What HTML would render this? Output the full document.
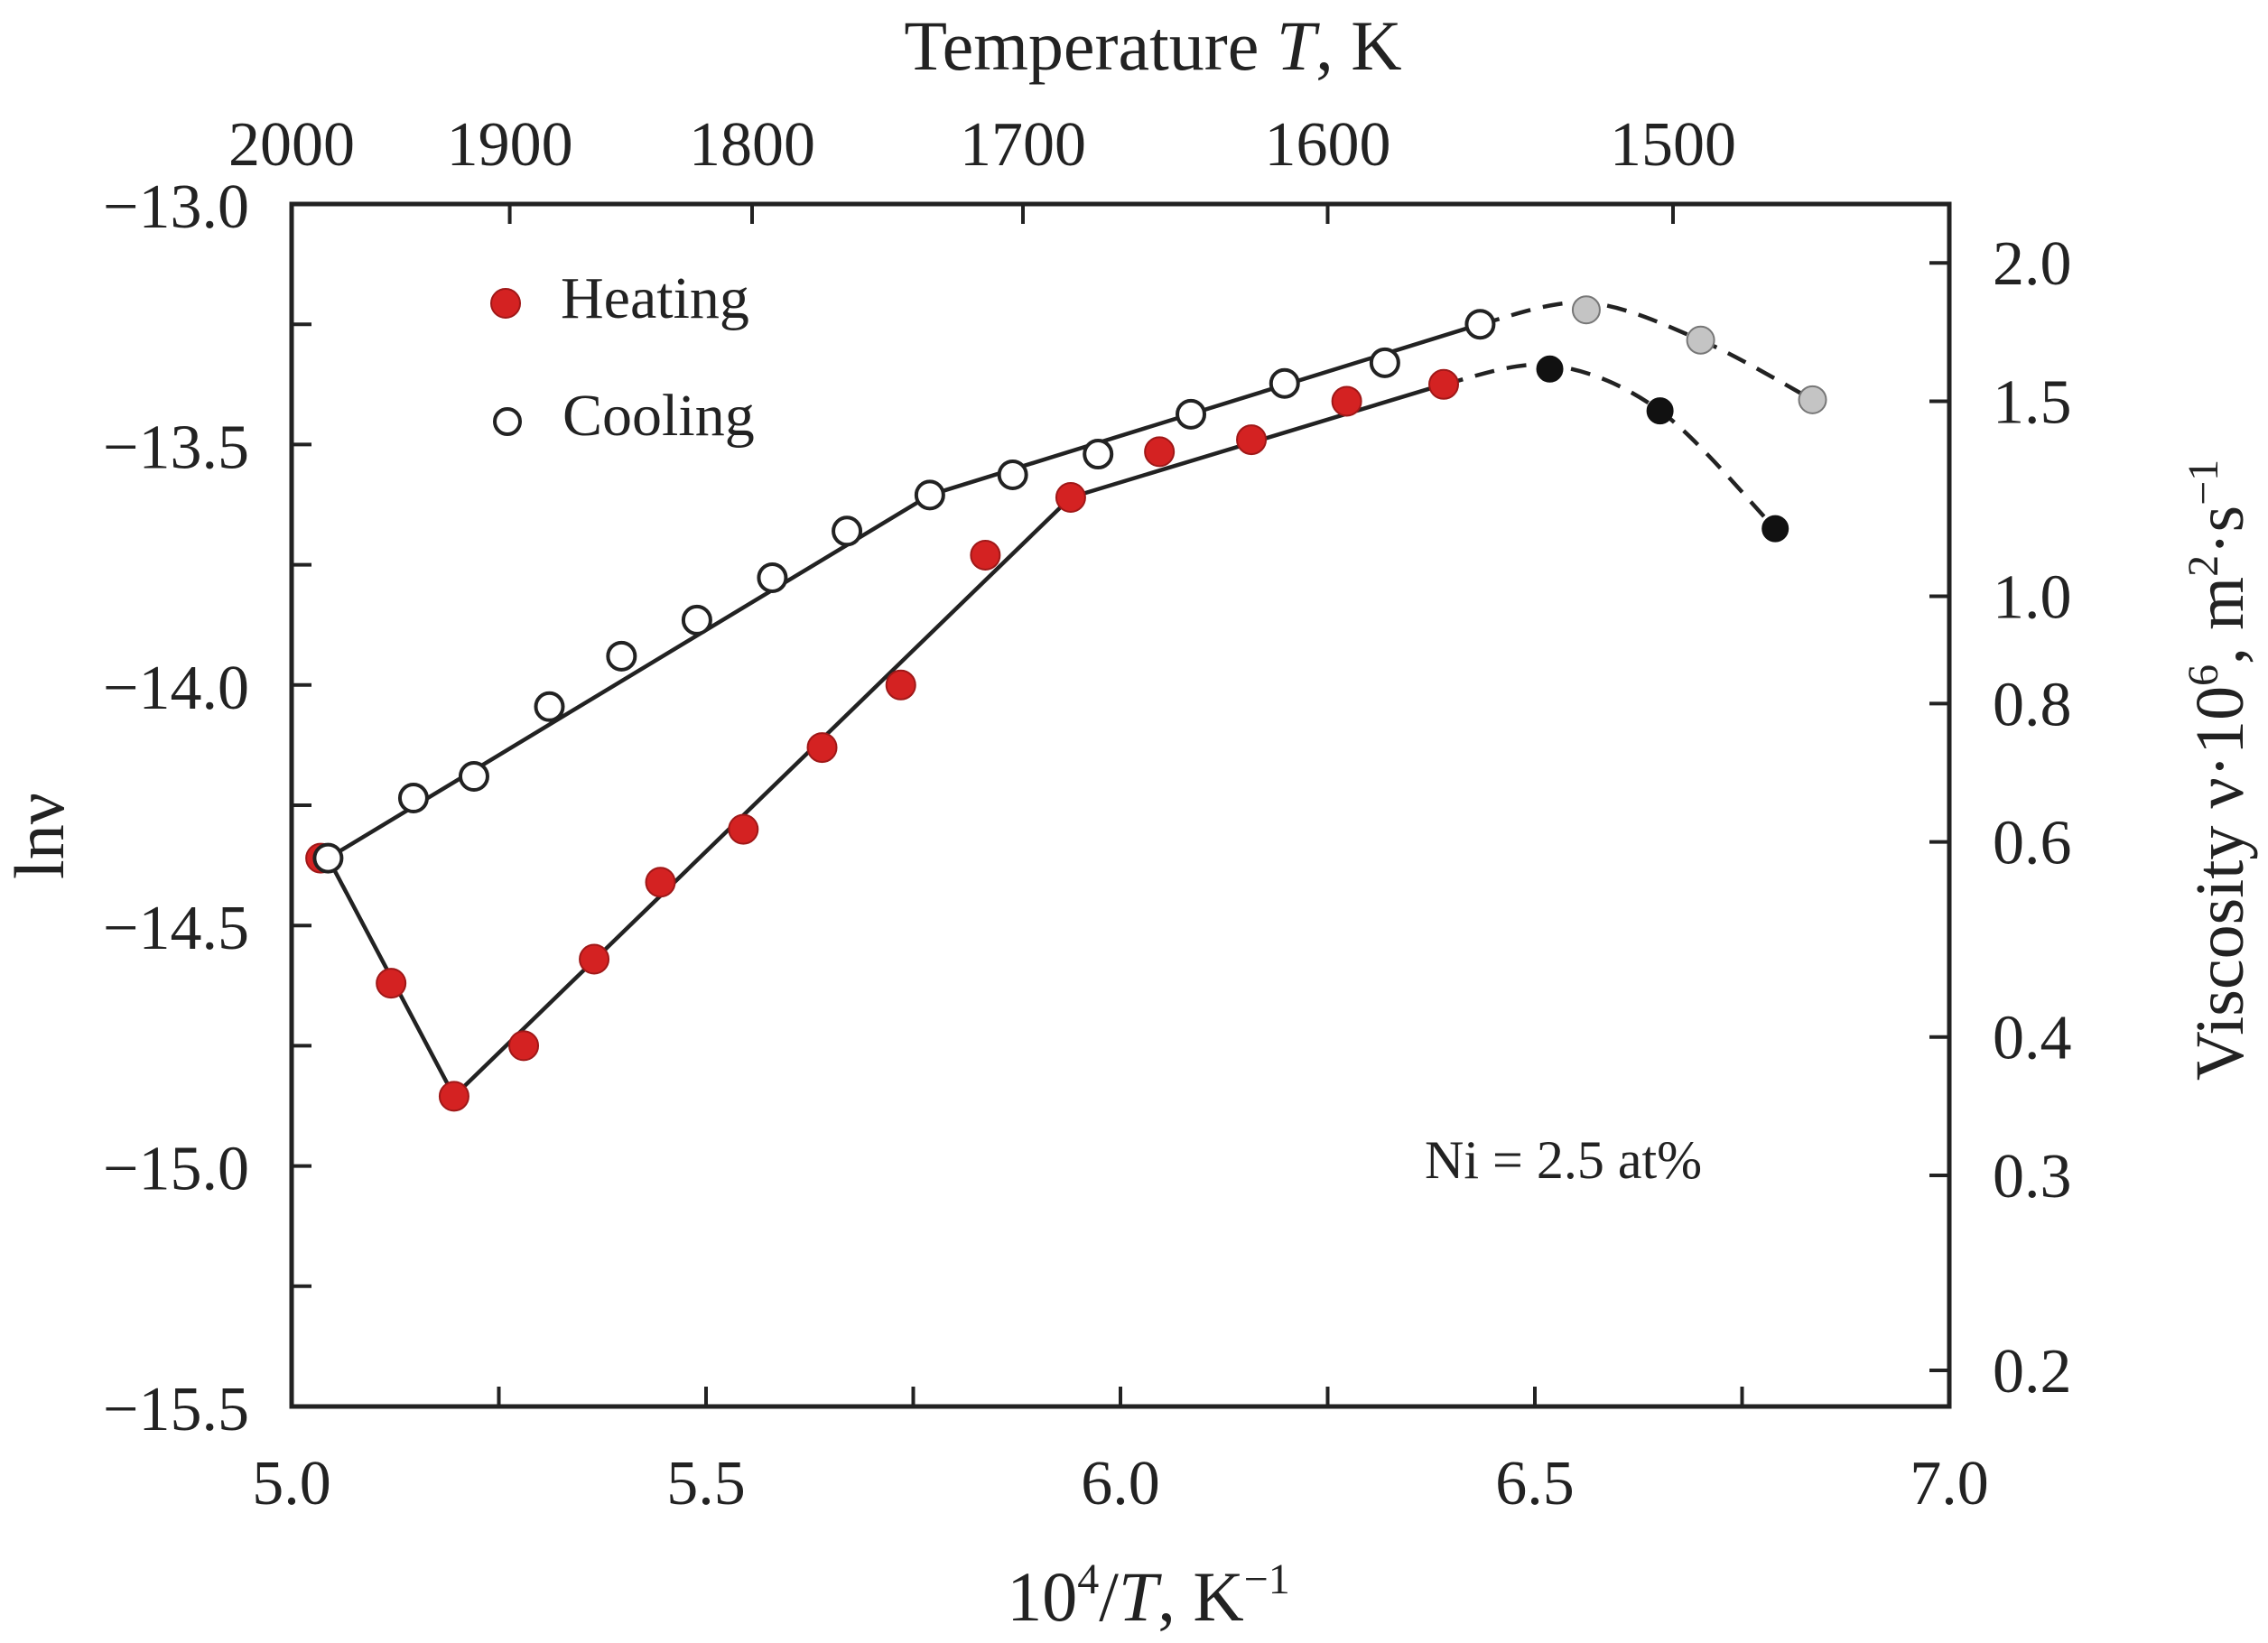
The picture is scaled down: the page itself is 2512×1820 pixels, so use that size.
<!DOCTYPE html>
<html><head><meta charset="utf-8"><style>
html,body{margin:0;padding:0;background:#fff;}
svg{display:block;font-family:"Liberation Serif",serif;}
</style></head><body>
<svg id="chart" width="2512" height="1820" viewBox="0 0 2512 1820" xmlns="http://www.w3.org/2000/svg">
<rect width="2512" height="1820" fill="#fff"/>
<g id="grid-layer"></g>
<g id="lines-layer"></g>
<g id="marks-layer"></g>
<rect x="323" y="226" width="1836" height="1332" fill="none" stroke="#222" stroke-width="5"/>
<text x="1277" y="77" font-size="78" text-anchor="middle" fill="#222">Temperature <tspan font-style="italic">T</tspan>, K</text>
<text x="1272" y="1795" font-size="78" text-anchor="middle" fill="#222">10<tspan dy="-30" font-size="48">4</tspan><tspan dy="30">/</tspan><tspan font-style="italic">T</tspan>, K<tspan dy="-30" font-size="48">−1</tspan></text>
<text x="0" y="0" font-size="78" text-anchor="middle" fill="#222" transform="translate(70,926) rotate(-90)">lnν</text>
<text x="0" y="0" font-size="76" text-anchor="middle" fill="#222" transform="translate(2484,853) rotate(-90)">Viscosity ν·10<tspan dy="-28" font-size="48">6</tspan><tspan dy="28">, m</tspan><tspan dy="-28" font-size="48">2</tspan><tspan dy="28">·s</tspan><tspan dy="-28" font-size="48">−1</tspan></text>
<g>
<circle cx="560" cy="336" r="16" fill="#d42222" stroke="#a01818" stroke-width="2"/>
<text x="621" y="352" font-size="66" fill="#222">Heating</text>
<circle cx="562" cy="467" r="14" fill="#fff" stroke="#222" stroke-width="4"/>
<text x="623" y="482" font-size="66" fill="#222">Cooling</text>
</g>
<text x="1578" y="1305" font-size="60" fill="#222">Ni = 2.5 at%</text>
</svg>
<script>
const xTicks = [5.0, 5.5, 6.0, 6.5, 7.0];
const xTickLabels = ["5.0", "5.5", "6.0", "6.5", "7.0"];
const yTicks = [-13.0, -13.5, -14.0, -14.5, -15.0, -15.5];
const yTickLabels = ["−13.0", "−13.5", "−14.0", "−14.5", "−15.0", "−15.5"];
const topTemps = [2000, 1900, 1800, 1700, 1600, 1500];
const rightVisc = [2.0, 1.5, 1.0, 0.8, 0.6, 0.4, 0.3, 0.2];
const rightViscLabels = ["2.0", "1.5", "1.0", "0.8", "0.6", "0.4", "0.3", "0.2"];

const heatX = [5.035, 5.12, 5.196, 5.28, 5.365, 5.445, 5.545, 5.64, 5.735, 5.837, 5.94, 6.047, 6.158, 6.273, 6.39];
const heatY = [-14.36, -14.62, -14.855, -14.75, -14.57, -14.41, -14.30, -14.13, -14.00, -13.73, -13.61, -13.515, -13.49, -13.41, -13.375];
const heatExtraX = [6.518, 6.651, 6.79];
const heatExtraY = [-13.343, -13.43, -13.675];
const coolX = [5.044, 5.147, 5.22, 5.311, 5.398, 5.489, 5.58, 5.67, 5.77, 5.87, 5.973, 6.085, 6.198, 6.319, 6.434];
const coolY = [-14.36, -14.235, -14.19, -14.045, -13.94, -13.865, -13.777, -13.68, -13.605, -13.563, -13.52, -13.437, -13.373, -13.33, -13.25];
const coolExtraX = [6.562, 6.70, 6.835];
const coolExtraY = [-13.22, -13.283, -13.407];

const heatFitX = [5.044, 5.196, 5.94, 6.39];
const heatFitY = [-14.36, -14.855, -13.61, -13.375];
const heatDashX = [6.39, 6.518, 6.651, 6.79];
const heatDashY = [-13.375, -13.335, -13.43, -13.675];
const coolFitX = [5.044, 5.77, 6.434];
const coolFitY = [-14.36, -13.605, -13.25];
const coolDashX = [6.434, 6.562, 6.70, 6.835];
const coolDashY = [-13.25, -13.205, -13.283, -13.407];

const L = 323, R = 2159, T = 226, B = 1558;
function sx(v){ return L + (v - 5.0) / 2.0 * (R - L); }
function sy(v){ return T + (-13.0 - v) / 2.5 * (B - T); }
const NS = "http://www.w3.org/2000/svg";
const grid = document.getElementById('grid-layer');
const linesL = document.getElementById('lines-layer');
const marks = document.getElementById('marks-layer');
function mk(tag, attrs, parent){ const e = document.createElementNS(NS, tag); for (const k in attrs) e.setAttribute(k, attrs[k]); parent.appendChild(e); return e; }

for (let v = 5.0; v <= 7.0001; v += 0.25) {
  const x = sx(v);
  const t = mk('line', {x1:x, x2:x, y1:B, y2:B-22, stroke:'#222', 'stroke-width':4}, grid);
  
  
}
xTicks.forEach((v, i) => {
  const t = mk('text', {x:sx(v), y:1666, 'font-size':70, 'text-anchor':'middle', fill:'#222'}, grid);
  t.textContent = xTickLabels[i];
  
  
});
for (let v = -13.0; v >= -15.5001; v -= 0.25) {
  const y = sy(v);
  const t = mk('line', {x1:L, x2:L+22, y1:y, y2:y, stroke:'#222', 'stroke-width':4}, grid);
  
  
}
yTicks.forEach((v, i) => {
  const t = mk('text', {x:276, y:sy(v)+26, 'font-size':70, 'text-anchor':'end', fill:'#222'}, grid);
  t.textContent = yTickLabels[i];
  
  
});
topTemps.forEach((Tk) => {
  const x = sx(1e4 / Tk);
  const t = mk('line', {x1:x, x2:x, y1:T, y2:T+22, stroke:'#222', 'stroke-width':4}, grid);
  
  
  const l = mk('text', {x:x, y:183, 'font-size':70, 'text-anchor':'middle', fill:'#222'}, grid);
  l.textContent = String(Tk);
  
  
});
rightVisc.forEach((v, i) => {
  const y = sy(Math.log(v * 1e-6));
  const t = mk('line', {x1:R, x2:R-22, y1:y, y2:y, stroke:'#222', 'stroke-width':4}, grid);
  
  
  const l = mk('text', {x:2207, y:y+24, 'font-size':70, fill:'#222'}, grid);
  l.textContent = rightViscLabels[i];
  
  
});

function poly(xs, ys, name){
  const pts = xs.map((v,i) => sx(v).toFixed(1) + ',' + sy(ys[i]).toFixed(1)).join(' ');
  const p = mk('polyline', {points:pts, fill:'none', stroke:'#222', 'stroke-width':4.5, 'stroke-linejoin':'round'}, linesL);
  
  
}
function smooth(xs, ys, name){
  const P = xs.map((v,i) => [sx(v), sy(ys[i])]);
  let d = 'M' + P[0][0] + ',' + P[0][1];
  for (let i = 0; i < P.length - 1; i++) {
    const p0 = P[Math.max(0,i-1)], p1 = P[i], p2 = P[i+1], p3 = P[Math.min(P.length-1,i+2)];
    const c1 = [p1[0] + (p2[0]-p0[0])/6, p1[1] + (p2[1]-p0[1])/6];
    const c2 = [p2[0] - (p3[0]-p1[0])/6, p2[1] - (p3[1]-p1[1])/6];
    d += ' C' + c1.join(',') + ' ' + c2.join(',') + ' ' + p2.join(',');
  }
  const p = mk('path', {d:d, fill:'none', stroke:'#222', 'stroke-width':4.5, 'stroke-dasharray':'22 14'}, linesL);
  
  
}
poly(heatFitX, heatFitY, 'heating-fit-line');
poly(coolFitX, coolFitY, 'cooling-fit-line');
smooth(heatDashX, heatDashY, 'heating-dashed-curve');
smooth(coolDashX, coolDashY, 'cooling-dashed-curve');

function dots(xs, ys, fill, stroke, sw, r, name){
  xs.forEach((v,i) => {
    const c = mk('circle', {cx:sx(v), cy:sy(ys[i]), r:r, fill:fill, stroke:stroke, 'stroke-width':sw}, marks);
    
    
  });
}
dots(heatX, heatY, '#d42222', '#a01818', 2, 16, 'heating-point');
dots(coolX, coolY, '#fff', '#222', 4, 15, 'cooling-point');
dots(heatExtraX, heatExtraY, '#111', '#111', 2, 14, 'heating-supercooled-point');
dots(coolExtraX, coolExtraY, '#c4c4c4', '#777', 2, 15, 'cooling-supercooled-point');
</script>
</body></html>
